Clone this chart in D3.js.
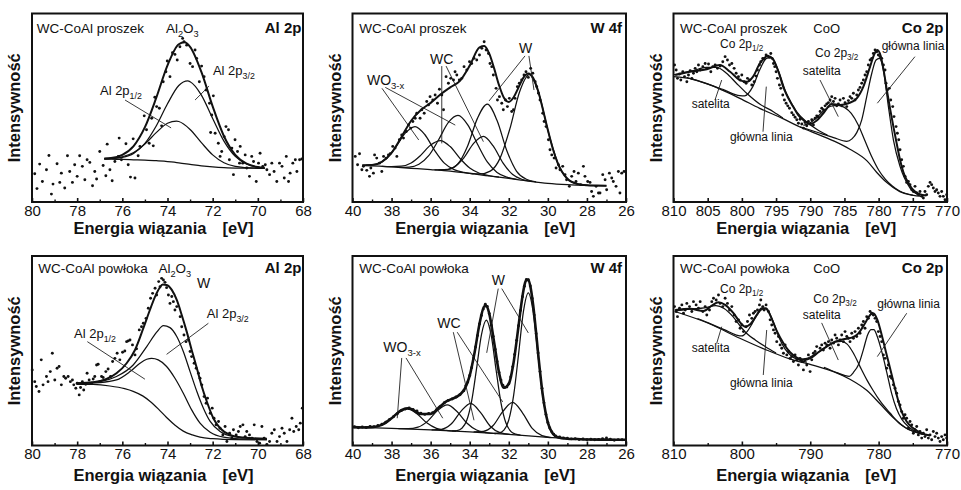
<!DOCTYPE html>
<html><head><meta charset="utf-8">
<script src="https://cdn.jsdelivr.net/npm/d3@7"></script>
<style>
body{margin:0;background:#fff}
text{font-family:"Liberation Sans",Arial,Helvetica,sans-serif;fill:#111}
</style>
</head><body>
<svg id="c" width="961" height="490"></svg>
<script>
// ---------- tick labels ----------
const alTicks=[80,78,76,74,72,70,68], alMinor=[79,77,75,73,71,69];
const wTicks=[40,38,36,34,32,30,28,26], wMinor=[39,37,35,33,31,29,27];
const co1Ticks=[810,805,800,795,790,785,780,775,770], co1Minor=[];
const co2Ticks=[810,800,790,780,770], co2Minor=[805,795,785,775];

// ---------- Panel 1: Al 2p, proszek ----------
const p1Dots=[[79.88,15.0],[79.78,7.1],[79.66,20.1],[79.54,10.9],[79.36,17.1],[79.25,24.7],[79.14,4.2],[79.07,9.5],[78.89,20.3],[78.77,10.4],[78.70,15.3],[78.55,7.4],[78.43,24.5],[78.33,16.2],[78.21,10.4],[78.11,19.8],[78.00,13.6],[77.89,24.5],[77.77,18.9],[77.66,11.8],[77.56,22.4],[77.44,21.0],[77.32,8.6],[77.22,16.2],[77.14,12.2],[77.00,26.8],[76.85,19.4],[76.73,13.9],[76.67,30.7],[76.55,17.1],[76.45,11.3],[76.33,21.5],[76.18,24.2],[76.14,33.9],[76.04,22.4],[75.84,30.9],[75.74,19.8],[75.64,13.2],[75.52,33.5],[75.44,12.7],[75.30,24.5],[75.22,29.5],[75.03,45.7],[74.93,38.3],[74.81,31.2],[74.70,44.4],[74.63,29.8],[74.56,55.6],[74.48,50.6],[74.36,49.7],[74.26,40.4],[74.19,63.8],[74.07,69.1],[74.01,74.8],[73.89,66.5],[73.78,79.2],[73.67,78.3],[73.57,75.3],[73.45,82.4],[73.33,86.8],[73.27,85.0],[73.15,83.2],[73.00,73.5],[72.89,71.8],[72.78,80.6],[72.71,76.2],[72.59,63.8],[72.49,72.1],[72.38,66.5],[72.29,59.4],[72.14,52.4],[72.04,46.2],[71.97,56.3],[72.09,36.9],[71.89,36.5],[71.75,31.2],[71.67,24.2],[71.60,26.8],[71.49,34.7],[71.41,40.0],[71.30,38.3],[71.26,22.4],[71.15,28.6],[71.08,14.5],[71.01,33.0],[70.90,26.8],[70.81,20.6],[70.78,29.5],[70.67,20.6],[70.56,25.0],[70.49,18.0],[70.37,13.6],[70.27,24.2],[70.19,21.5],[70.07,10.9],[69.97,20.6],[69.90,25.9],[69.78,18.9],[69.67,19.8],[69.60,17.1],[69.48,14.5],[69.38,20.6],[69.28,16.2],[69.16,10.9],[69.04,20.6],[68.93,18.9],[68.83,12.7],[68.74,24.2],[68.64,10.9],[68.57,15.3],[68.45,20.6],[68.34,22.4],[68.27,16.2],[68.15,22.4],[68.05,22.8]];
const p1Bg=[[76.8,22.8],[76.5,22.7],[76,22.6],[75.5,22.4],[75,22.2],[74.5,21.9],[74,21.4],[73.5,20.8],[73,20.0],[72.5,19.2],[72,18.6],[71.5,18.2],[71,18.0],[70.5,18.0],[70,17.9],[69.7,17.9]];
const p1Al32=[[76.8,22.9],[76.5,23.0],[76,23.65],[75.5,25.8],[75,31.1],[74.5,40.3],[74,52.1],[73.5,61.8],[73.1,64.2],[73,63.8],[72.5,56.7],[72,44.3],[71.5,32.3],[71,24.2],[70.5,20.2],[70,18.5],[69.7,18.1]];
const p1Al12=[[76.8,23.0],[76.5,23.1],[76,24.0],[75.5,26.3],[75,30.8],[74.5,36.8],[74,41.8],[73.6,42.9],[73.5,42.7],[73,38.5],[72.5,31.5],[72,25.0],[71.5,20.8],[71,18.85],[70.5,18.2],[70,17.95],[69.7,17.9]];
const p1Env=[[76.8,23.1],[76.5,23.3],[76,25.05],[75.5,29.7],[75,39.7],[74.5,55.2],[74,72.5],[73.5,83.7],[73.25,84.7],[73,82.3],[72.5,69.0],[72,50.7],[71.5,34.9],[71,25.05],[70.5,20.4],[70,18.55],[69.7,18.1]];

// ---------- Panel 2: W 4f, proszek ----------
const p2Dots=[[39.86,24.2],[39.74,19.8],[39.64,25.6],[39.52,17.1],[39.44,18.9],[39.27,16.8],[39.13,13.6],[39.06,18.0],[38.93,15.3],[38.87,25.0],[38.76,23.3],[38.62,20.6],[38.50,16.2],[38.41,24.2],[38.28,23.3],[38.16,25.0],[38.07,25.6],[37.94,29.5],[37.82,28.6],[37.73,24.2],[37.60,33.0],[37.48,35.6],[37.39,33.9],[37.25,37.4],[37.13,40.9],[37.02,39.2],[36.91,42.7],[36.79,44.4],[36.71,47.1],[36.54,44.4],[36.45,48.9],[36.33,47.1],[36.20,53.3],[36.11,51.5],[36.03,55.9],[35.89,54.1],[35.77,56.8],[35.65,52.4],[35.55,59.8],[35.43,56.8],[35.34,48.9],[35.21,66.5],[35.09,63.0],[34.97,65.6],[34.83,64.7],[34.75,69.1],[34.66,67.4],[34.53,64.7],[34.41,65.6],[34.29,71.8],[34.15,70.0],[34.01,74.4],[33.90,73.5],[33.78,76.2],[33.64,75.3],[33.50,78.0],[33.38,81.5],[33.26,85.0],[33.16,80.6],[33.04,78.8],[32.96,73.5],[32.87,71.8],[32.79,67.4],[32.65,60.3],[32.58,54.1],[32.48,55.9],[32.36,52.4],[32.28,48.9],[32.17,54.1],[32.07,50.6],[31.97,55.0],[31.85,48.0],[31.76,48.9],[31.68,55.0],[31.56,61.2],[31.46,63.0],[31.34,64.7],[31.22,67.4],[31.12,69.1],[31.00,66.1],[30.88,70.9],[30.77,68.3],[30.65,63.8],[30.57,61.2],[30.48,57.7],[30.40,54.1],[30.26,47.1],[30.19,42.7],[30.09,40.0],[29.97,33.0],[29.89,27.7],[29.80,25.0],[29.68,23.3],[29.58,18.0],[29.46,19.8],[29.38,17.1],[29.24,18.9],[29.12,14.5],[29.04,11.8],[28.90,8.3],[28.78,13.6],[28.66,16.2],[28.56,10.9],[28.44,15.3],[28.32,9.2],[28.18,18.9],[28.10,13.6],[27.96,10.9],[27.84,10.4],[27.76,5.6],[27.67,3.0],[27.53,8.3],[27.41,4.8],[27.33,4.8],[27.19,14.5],[27.07,11.8],[26.99,6.5],[26.85,15.3],[26.73,12.7],[26.65,10.9],[26.51,8.3],[26.39,16.2],[26.31,4.8],[26.22,15.3],[26.10,16.2]];
const p2Bg=[[39.5,19.4],[38,18.6],[37,17.9],[36,17.2],[35,16.4],[34,15.2],[33,13.8],[32,12.5],[31,11.1],[30,9.9],[29,9.2],[28,8.8],[27,8.6]];
const p2WO1=[[39.3,19.5],[38.8,20.0],[38.3,22.8],[37.8,28.85],[37.3,36.5],[36.8,40.05],[36.3,35.8],[35.8,27.4],[35.3,20.6],[34.8,17.2],[34.3,15.7],[33.8,14.9]];
const p2WC1=[[38.5,18.92],[38,18.73],[37.5,18.98],[37,20.71],[36.5,24.88],[36,30.2],[35.5,32.6],[35,29.4],[34.5,23.13],[34,18.01],[33.5,15.23],[33,13.93],[32.5,13.17]];
const p2WO2=[[37.6,18.42],[37.1,18.56],[36.6,20.05],[36.1,24.56],[35.6,32.88],[35.1,42.08],[34.6,45.92],[34.1,40.92],[33.6,30.64],[33.1,21.23],[32.6,15.71],[32.1,13.22],[31.6,12.04]];
const p2WC2=[[35.8,17.1],[35.3,17.09],[34.8,18.57],[34.3,23.44],[33.8,31.1],[33.3,34.8],[32.8,29.75],[32.3,20.8],[31.8,14.57],[31.3,11.94],[30.8,10.9]];
const p2W1=[[35.6,16.98],[35.1,17.3],[34.6,20.3],[34.1,29.9],[33.6,44.5],[33.1,51.9],[32.6,43.2],[32.1,27.2],[31.6,16.3],[31.1,12.06],[30.6,10.72]];
const p2W2=[[33.95,15.2],[33.45,14.9],[32.95,16.36],[32.45,23.15],[31.95,38.63],[31.45,58.33],[30.95,67.54],[30.45,57.04],[29.95,36.07],[29.45,19.59],[28.95,11.8],[28.45,9.44],[27.95,8.85]];
const p2Env=[[39.5,19.5],[39,19.6],[38.5,21.3],[38,26.1],[37.5,34.4],[37,43.1],[36.5,48.8],[36,52.6],[35.5,57.05],[35,60.8],[34.5,64.3],[34,72.35],[33.5,82.0],[33.25,82.7],[33,78.7],[32.75,70.9],[32.5,62.0],[32.25,55.3],[32,53.1],[31.75,55.6],[31.5,60.8],[31.25,66.0],[31,68.2],[30.75,65.8],[30.5,59.0],[30.25,49.0],[30,38.2],[29.75,28.4],[29.5,20.8],[29,12.3],[28.5,9.6],[28,8.9],[27.5,8.7],[27,8.6]];

// ---------- Panel 3: Co 2p, proszek ----------
const p3Dots=[[809.85,72.7],[809.61,70.0],[809.42,65.6],[809.12,67.9],[808.93,64.7],[808.64,69.1],[808.39,66.5],[808.05,63.8],[807.81,67.4],[807.56,69.7],[807.32,65.6],[807.08,68.3],[806.83,70.9],[806.59,69.1],[806.35,72.7],[806.10,70.0],[805.71,71.8],[805.37,73.5],[805.13,70.9],[804.88,73.2],[804.54,69.1],[804.25,71.8],[803.91,72.7],[803.57,70.9],[803.18,72.1],[802.79,74.4],[802.45,77.1],[802.11,75.3],[801.81,72.7],[801.47,73.5],[801.13,70.9],[800.84,68.3],[800.50,66.5],[800.26,64.7],[800.01,67.4],[799.67,63.8],[799.38,63.0],[799.18,65.6],[798.89,64.7],[798.55,62.1],[798.21,63.8],[797.92,66.8],[797.72,70.0],[797.43,72.7],[797.23,74.4],[796.94,76.2],[796.75,75.7],[796.46,78.0],[796.21,77.4],[795.97,76.7],[795.77,78.8],[795.58,76.2],[795.38,73.5],[795.19,71.8],[794.99,69.1],[794.80,65.6],[794.51,62.1],[794.31,60.3],[794.02,56.8],[793.78,54.1],[793.53,52.4],[793.29,51.0],[793.04,49.7],[792.70,47.4],[792.46,46.2],[792.22,45.0],[791.97,43.6],[791.73,41.8],[791.49,43.9],[791.24,41.4],[791.00,39.2],[790.76,42.2],[790.51,40.4],[790.27,42.7],[790.02,41.4],[789.78,43.6],[789.54,40.9],[789.29,44.4],[789.05,45.7],[788.81,45.0],[788.56,48.0],[788.32,49.7],[788.08,48.9],[787.83,51.0],[787.59,52.0],[787.34,52.7],[787.10,54.1],[786.86,55.9],[786.61,53.3],[786.37,55.0],[786.13,51.0],[785.88,52.0],[785.64,54.1],[785.40,51.0],[785.15,55.0],[784.91,52.7],[784.66,50.6],[784.42,53.8],[784.18,55.9],[783.93,55.0],[783.69,57.7],[783.45,54.1],[783.20,56.8],[782.96,59.4],[782.72,60.8],[782.47,63.0],[782.23,64.7],[781.99,67.4],[781.74,69.1],[781.50,72.7],[781.25,75.3],[781.01,76.2],[780.77,78.8],[780.52,80.6],[780.28,79.7],[780.04,78.0],[779.79,77.1],[779.55,76.2],[779.30,72.7],[779.06,70.0],[778.92,63.0],[778.72,59.4],[778.43,60.3],[778.23,54.1],[777.94,50.6],[777.75,45.3],[777.45,40.0],[777.26,36.5],[777.06,33.0],[776.87,27.7],[776.63,22.4],[776.38,18.9],[776.14,13.6],[775.90,10.4],[775.65,10.9],[775.41,9.2],[775.16,6.5],[774.92,5.6],[774.68,8.3],[774.43,4.8],[774.19,3.9],[773.95,5.6],[773.70,3.0],[773.46,2.1],[773.22,5.6],[772.97,3.9],[772.73,8.3],[772.48,10.4],[772.24,9.2],[772.00,7.4],[771.75,5.6],[771.51,6.5],[771.27,4.8],[771.02,3.0],[770.78,5.6],[770.54,3.0],[770.29,1.2],[770.05,3.9]];
const p3Bg=[[810,66.5],[807.1,65.1],[804.9,62.5],[802.7,59.1],[800.3,55.0],[797.4,49.7],[794,44.2],[791.5,39.8],[788.6,35.5],[786.5,32.3],[784.2,28.0],[781.7,21.8],[780.3,15.8],[778.8,10.3],[776.9,5.5],[775.2,3.6],[773.5,3.0]];
const p3Sat12=[[810,67.4],[807.1,69.7],[805.2,71.4],[803.7,71.4],[802.25,68.3],[800.8,63.0],[799.3,57.7],[797.4,52.0],[795.4,47.9],[794,44.5]];
const p3Main12=[[808.1,66.1],[805.2,62.8],[802.7,59.6],[800.3,56.4],[799.6,56.3],[798.4,61.2],[797.4,70.0],[796.4,76.2],[795.7,76.7],[794.7,70.0],[793.5,57.7],[792,48.0],[790.6,42.7],[789,38.5],[787.5,35.5]];
const p3Sat32=[[791,40.6],[790,42.0],[789,45.0],[788,48.5],[787,50.8],[786,51.3],[785,50.2],[784,47.0],[783,41.0],[782,32.5],[781,24.0],[780,17.0],[779,12.0],[778,8.5],[777,6.0],[776,4.5],[775,3.6]];
const p3Main32=[[791.5,39.9],[789,37.0],[786.6,34.2],[784.66,32.2],[783.9,33.5],[783.2,36.8],[782.47,43.6],[781.74,55.9],[781.0,68.3],[780.38,75.3],[779.89,76.2],[779.3,70.0],[778.57,50.6],[777.84,33.0],[776.87,18.9],[775.4,7.4],[773.95,3.5]];
const p3Env=[[809.76,67.4],[807.56,69.1],[805.13,70.4],[803.23,72.7],[801.72,69.1],[800.3,64.7],[799.28,63.8],[798.36,66.5],[797.38,73.5],[796.16,77.4],[795.43,75.7],[794.65,69.1],[793.97,61.2],[793.19,55.0],[792.51,50.6],[791.78,46.2],[791.05,43.6],[790.07,41.4],[789.05,43.2],[788.08,47.1],[786.86,52.0],[785.64,51.5],[784.42,52.4],[783.2,55.0],[782.23,61.2],[781.25,71.8],[780.62,78.5],[780.18,80.6],[779.7,77.5],[779.2,68.5],[778.8,59.4],[778.3,49.0],[777.84,40.0],[777.3,30.0],[776.87,22.4],[776.4,16.0],[775.9,11.8],[775.2,7.5],[774.68,5.6],[774.0,4.2],[773.0,3.4]];

// ---------- Panel 4: Al 2p, powloka ----------
const p4Dots=[[79.99,39.9],[79.88,33.7],[79.81,31.1],[79.69,28.5],[79.59,45.2],[79.51,32.0],[79.36,36.4],[79.29,33.7],[79.19,39.0],[79.10,48.7],[78.99,34.6],[78.89,40.8],[78.80,41.7],[78.70,32.0],[78.59,36.4],[78.51,35.5],[78.40,36.4],[78.30,33.7],[78.21,34.6],[78.15,32.0],[78.06,30.2],[78.00,32.9],[77.91,26.7],[77.85,30.6],[77.77,33.7],[77.71,29.3],[77.62,32.3],[77.56,38.1],[77.47,34.6],[77.37,32.9],[77.29,35.1],[77.22,36.4],[77.14,42.5],[77.07,42.9],[77.00,33.7],[76.92,36.4],[76.85,35.9],[76.73,39.0],[76.63,40.4],[76.52,36.4],[76.43,44.3],[76.33,46.0],[76.23,48.7],[76.11,45.2],[75.99,49.2],[75.89,49.9],[75.81,54.8],[75.74,55.2],[75.66,55.7],[75.55,53.1],[75.44,47.8],[75.37,51.0],[75.25,61.0],[75.15,62.7],[75.07,64.5],[74.95,67.1],[74.85,72.4],[74.75,77.7],[74.66,80.3],[74.55,83.0],[74.48,79.4],[74.39,86.5],[74.33,83.8],[74.26,88.2],[74.18,87.3],[74.11,86.1],[74.04,83.3],[73.96,79.4],[73.89,75.0],[73.81,78.6],[73.74,75.9],[73.67,71.5],[73.59,73.3],[73.44,68.0],[73.37,62.7],[73.27,58.3],[73.18,54.8],[73.07,55.7],[73.00,49.6],[72.93,46.9],[72.82,43.4],[72.73,40.8],[72.63,38.1],[72.56,35.5],[72.48,32.0],[72.38,25.8],[72.29,22.3],[72.23,25.0],[72.11,17.0],[72.02,19.7],[71.94,14.4],[71.85,10.9],[71.74,12.7],[71.67,9.1],[71.55,5.6],[71.45,10.0],[71.37,2.1],[71.25,6.5],[71.15,3.9],[71.08,8.3],[70.96,5.6],[70.86,7.4],[70.78,10.0],[70.66,10.9],[70.56,4.7],[70.49,7.4],[70.37,5.6],[70.26,3.9],[70.16,10.9],[70.04,2.1],[69.92,1.2],[69.82,10.0],[69.72,3.9],[69.60,0.6],[69.48,2.1],[69.38,6.5],[69.27,8.3],[69.15,2.1],[69.04,4.7],[68.93,9.1],[68.83,6.5],[68.71,2.1],[68.59,8.3],[68.49,14.4],[68.41,7.4],[68.30,10.0],[68.19,8.3],[68.12,11.8],[68.03,19.7]];
const p4Bg=[[78.03,32.3],[77.29,32.2],[76.55,31.4],[75.9,30.0],[75.52,28.6],[75.1,26.2],[74.78,23.4],[74.4,19.2],[74.04,14.8],[73.65,10.6],[73.3,7.6],[72.9,5.6],[72.56,4.4],[72,3.6],[71,3.1],[69.6,3.0]];
const p4Al32=[[78.03,32.9],[77.0,33.7],[76.26,36.4],[75.52,42.5],[74.92,52.2],[74.48,59.8],[74.18,63.3],[73.89,62.2],[73.59,57.5],[73.3,49.6],[73.0,39.0],[72.7,28.5],[72.41,19.7],[72.11,12.7],[71.67,7.4],[71.08,4.7],[70.34,3.9],[69.6,3.3]];
const p4Al12=[[78.03,32.7],[77.0,33.2],[76.26,34.6],[75.66,39.0],[75.22,43.4],[74.92,45.5],[74.7,46.0],[74.41,45.2],[74.04,41.7],[73.67,35.5],[73.3,27.6],[72.93,18.8],[72.56,11.8],[72.11,7.0],[71.52,4.4],[70.78,3.5],[69.6,3.2]];
const p4Env=[[78.03,32.9],[77.29,33.4],[76.7,35.1],[76.26,38.1],[75.81,43.4],[75.44,50.4],[75.07,61.9],[74.78,71.5],[74.55,78.6],[74.36,83.0],[74.21,84.9],[74.04,84.7],[73.81,82.1],[73.59,76.8],[73.37,68.9],[73.15,60.1],[72.93,50.4],[72.7,40.8],[72.48,31.1],[72.26,23.2],[71.97,14.4],[71.67,9.1],[71.23,5.6],[70.63,4.2],[69.6,3.5]];

// ---------- Panel 5: W 4f, powloka ----------
const p5Dots=[[39.9,9.9],[39.7,9.4],[39.5,9.8],[39.3,9.5],[39.1,10.0],[38.9,9.9],[38.7,10.6],[38.5,11.2],[38.3,12.3],[38.1,13.8],[37.9,15.2],[37.7,16.8],[37.5,18.4],[37.3,19.2],[37.1,19.8],[36.9,19.0],[36.7,18.2],[36.5,17.0],[36.3,16.4],[36.1,16.9],[35.9,17.3],[35.7,18.9],[35.5,20.4],[35.3,22.6],[35.1,23.8],[34.9,24.5],[34.7,25.6],[34.5,26.8],[34.3,28.9],[34.2,31.5],[34.1,33.5],[34.0,36.9],[33.9,41.0],[33.8,46.2],[33.7,52.0],[33.6,58.0],[33.5,64.1],[33.4,68.6],[33.3,72.0],[33.2,74.5],[33.1,73.4],[33.0,69.6],[32.9,63.5],[32.8,57.6],[32.7,50.8],[32.6,44.3],[32.5,38.5],[32.4,34.5],[32.3,31.8],[32.2,30.6],[32.1,30.9],[32.0,32.5],[31.9,36.2],[31.8,41.5],[31.7,48.0],[31.6,55.5],[31.5,63.2],[31.4,71.3],[31.3,78.5],[31.2,84.0],[31.1,87.6],[31.0,87.5],[30.9,84.2],[30.8,77.6],[30.7,68.8],[30.6,59.0],[30.5,48.8],[30.4,39.0],[30.3,30.2],[30.2,22.5],[30.1,16.4],[30.0,12.1],[29.9,9.3],[29.8,7.2],[29.7,6.0],[29.6,5.0],[29.4,4.5],[29.2,4.0],[29.0,3.8],[28.8,3.5],[28.6,3.6],[28.4,3.2],[28.2,3.4],[28.0,3.1],[27.8,3.3],[27.6,3.0],[27.4,3.2],[27.2,3.6],[27.0,4.0],[26.8,3.3],[26.6,2.8],[26.4,3.1],[26.2,3.0]];
const p5Bg=[[40,9.7],[38,9.0],[36,8.2],[34,7.2],[32,5.9],[30,4.3],[29,3.6],[28,3.2],[26,3.0]];
const p5WO1=[[39.7,9.61],[39.2,9.56],[38.7,10.2],[38.2,12.73],[37.7,17.14],[37.2,19.52],[36.7,16.72],[36.2,11.94],[35.7,9.0],[35.2,7.94],[34.7,7.56]];
const p5WO2=[[37.65,8.9],[37.15,8.84],[36.65,9.65],[36.15,12.87],[35.65,18.41],[35.15,21.38],[34.65,17.91],[34.15,11.89],[33.65,8.18],[33.15,6.83],[32.65,6.32]];
const p5WC1=[[35.95,8.23],[35.45,8.56],[34.95,11.35],[34.45,18.02],[33.95,22.27],[33.45,17.46],[32.95,10.18],[32.45,6.8],[31.95,5.91]];
const p5WC2=[[33.8,7.14],[33.3,7.47],[32.8,10.54],[32.3,18.02],[31.8,22.74],[31.3,17.27],[30.8,9.07],[30.3,5.25],[29.8,4.22]];
const p5W1=[[34.9,7.7],[34.65,7.88],[34.4,9.07],[34.15,13.29],[33.9,23.55],[33.65,40.55],[33.4,58.42],[33.15,66.15],[32.9,58.07],[32.65,39.86],[32.4,22.55],[32.15,11.97],[31.9,7.49],[31.65,5.97],[31.4,5.47]];
const p5W2=[[32.75,6.44],[32.5,6.64],[32.25,8.14],[32.0,13.53],[31.75,26.54],[31.5,48.08],[31.25,70.76],[31.0,80.6],[30.75,70.36],[30.5,47.28],[30.25,25.34],[30.0,11.93],[29.75,6.24],[29.5,4.39],[29.25,3.85]];
const p5Env=[[40,9.7],[39.5,9.5],[39,9.7],[38.5,10.9],[38,14.4],[37.5,18.6],[37.2,19.6],[37,19.3],[36.5,16.6],[36,16.7],[35.5,20.8],[35.15,23.5],[35,24.2],[34.5,26.9],[34.25,30.0],[34,36.9],[33.75,49.1],[33.5,64.1],[33.25,73.5],[33.15,73.7],[33,69.6],[32.75,54.4],[32.5,38.5],[32.25,30.5],[32,32.5],[31.75,44.1],[31.5,63.2],[31.375,73.3],[31.25,81.8],[31.125,86.9],[31,87.5],[30.875,82.9],[30.75,73.9],[30.625,61.9],[30.5,48.8],[30.25,25.9],[30,12.1],[29.75,6.3],[29.5,4.4],[29,3.6],[28.5,3.4],[28,3.2],[27,3.1],[26,3.0]];

// ---------- Panel 6: Co 2p, powloka ----------
const p6Dots=[[809.85,73.3],[809.61,70.7],[809.42,68.0],[809.12,72.4],[808.78,74.2],[808.54,69.8],[808.29,71.5],[808.05,75.0],[807.66,73.3],[807.32,70.7],[807.08,75.9],[806.69,74.2],[806.35,72.4],[806.10,75.9],[805.71,70.7],[805.37,73.3],[805.13,68.9],[804.74,71.5],[804.40,75.9],[804.15,77.7],[803.76,76.8],[803.42,79.4],[803.18,75.0],[802.79,73.3],[802.45,77.7],[802.11,75.0],[801.81,71.5],[801.47,73.3],[801.13,68.9],[800.84,65.4],[800.50,66.3],[800.26,61.9],[800.01,63.6],[799.77,60.1],[799.38,62.7],[799.18,65.4],[798.89,68.9],[798.55,67.1],[798.31,69.8],[798.06,70.7],[797.72,71.5],[797.43,74.2],[797.23,76.8],[796.94,73.3],[796.75,71.5],[796.46,74.2],[796.12,70.7],[795.87,66.3],[795.63,63.6],[795.38,61.0],[795.14,59.2],[794.90,54.8],[794.65,57.5],[794.41,53.1],[794.17,51.3],[793.92,48.7],[793.68,53.1],[793.43,47.8],[793.19,49.6],[792.95,46.0],[792.70,46.9],[792.46,44.3],[792.22,47.8],[791.97,45.2],[791.73,42.5],[791.49,46.0],[791.24,44.3],[791.00,39.9],[790.76,45.2],[790.51,42.5],[790.27,47.8],[790.02,39.0],[789.78,45.2],[789.54,48.7],[789.29,49.6],[789.05,52.2],[788.56,51.3],[788.32,53.1],[788.08,50.4],[787.83,54.0],[787.59,53.1],[787.34,54.8],[787.10,51.3],[786.86,55.7],[786.61,54.0],[786.37,58.3],[786.13,56.6],[785.88,53.1],[785.64,55.7],[785.40,58.3],[785.15,54.8],[784.91,60.1],[784.66,57.5],[784.42,56.6],[784.18,54.8],[783.93,59.2],[783.69,56.6],[783.45,60.1],[783.20,57.5],[782.96,61.9],[782.72,59.2],[782.47,63.6],[782.23,65.4],[781.99,61.9],[781.74,68.0],[781.50,67.1],[781.25,70.7],[781.01,69.8],[780.77,68.9],[780.52,67.1],[780.28,65.4],[780.04,60.1],[779.79,57.5],[779.55,54.8],[779.31,47.8],[779.06,46.0],[778.82,40.8],[778.58,42.5],[778.33,36.4],[778.09,35.5],[777.84,32.0],[777.60,30.2],[777.36,27.6],[777.11,23.2],[776.87,21.4],[776.63,17.9],[776.38,14.4],[776.14,16.2],[775.90,14.4],[775.65,9.1],[775.41,12.7],[775.16,10.9],[774.92,6.5],[774.68,8.3],[774.43,10.0],[774.19,5.6],[773.95,7.4],[773.70,3.9],[773.46,6.5],[773.22,4.7],[772.97,8.3],[772.73,3.9],[772.48,5.6],[772.24,3.0],[772.00,7.4],[771.75,4.7],[771.51,6.5],[771.27,3.9],[771.02,2.1],[770.78,4.7],[770.54,3.0],[770.29,5.6],[770.05,3.9]];
const p6Bg=[[809.8,70.7],[804.9,64.5],[800.3,56.6],[796.4,50.4],[793,45.7],[789.5,42.3],[786.6,39.0],[784.2,35.0],[781.7,29.0],[779.8,22.0],[777.8,14.5],[775.9,9.0],[774,6.4],[772.5,5.2]];
const p6Sat12=[[809.8,71.0],[807.5,72.0],[805.5,72.6],[803.8,73.8],[802.6,72.3],[801.3,68.0],[800.2,62.8],[799.2,58.8],[798,55.6],[796.5,52.0],[795,48.8]];
const p6Main12=[[806.5,67.0],[804.9,64.7],[802.5,61.0],[800.8,58.3],[800.0,57.8],[799.3,59.8],[798.5,64.3],[797.8,68.8],[797.1,71.7],[796.6,72.1],[796.0,70.0],[795.3,64.3],[794.5,56.5],[793.7,51.0],[792.8,47.4],[791.8,45.3],[790.5,44.0]];
const p6Sat32=[[792,45.4],[790.5,46.0],[789,48.8],[787.6,52.4],[786.4,54.6],[785.4,55.0],[784.6,53.5],[783.7,48.8],[782.7,41.5],[781.7,34.5],[780.8,29.0],[779.8,23.5],[778.3,17.0],[776.9,11.5],[775,7.6],[773.5,5.8]];
const p6Main32=[[788,41.3],[786,38.3],[785,37.0],[784.3,36.5],[783.7,38.5],[782.9,43.0],[782.2,51.0],[781.6,58.5],[781.1,61.2],[780.7,61.2],[780.2,57.5],[779.5,49.0],[778.8,38.5],[778.1,27.5],[777.4,19.5],[776.6,13.8],[775.6,9.8],[774.4,7.0],[773,5.5]];
const p6Env=[[809.76,71.5],[807.56,72.1],[805.61,71.0],[804.4,73.8],[803.42,75.6],[802.45,74.2],[801.23,69.8],[800.26,65.0],[799.52,62.7],[798.79,64.0],[797.82,68.9],[797.09,72.4],[796.46,72.4],[795.77,68.0],[794.9,60.5],[793.92,54.0],[792.95,49.2],[791.97,46.4],[791.0,45.2],[790.02,46.0],[788.81,49.2],[787.59,52.2],[786.37,54.8],[785.15,56.1],[783.93,56.9],[782.96,59.2],[781.99,64.5],[781.25,68.9],[780.77,69.8],[780.18,66.3],[779.55,58.3],[778.82,47.8],[778.09,37.3],[777.36,26.7],[776.63,17.9],[775.9,12.7],[774.92,9.1],[773.7,6.5],[772.48,5.3]];

// ---------- layout ----------
const cols=[[32,303],[352.5,626],[673.5,947]];
const rows=[[202,13.5],[445.5,256]];
const titleY=[234,481];
const svg=d3.select("#c");

const panels=[
 {col:0,row:0,dom:[80,68],ticks:alTicks,minor:alMinor,dots:p1Dots,lines:[p1Bg,p1Al32,p1Al12],env:p1Env,envW:2,
  texts:[{E:79.79,v:89.4,parts:[["WC-CoAl proszek"]],size:13.5},
         {E:74.07,v:89.4,parts:[["Al"],["2","s"],["O"],["3","s"]],size:13.5},
         {E:68.07,v:89.4,parts:[["Al 2p"]],size:15,bold:1,anchor:"end"},
         {E:71.99,v:67.4,parts:[["Al 2p"],["3/2","s"]],size:13},
         {E:76.99,v:56.8,parts:[["Al 2p"],["1/2","s"]],size:13}],
  leaders:[[72.16,61.5,72.78,54.1],[75.88,54.1,73.84,39.3]]},
 {col:1,row:0,dom:[40,26],ticks:wTicks,minor:wMinor,dots:p2Dots,lines:[p2Bg,p2WO1,p2WC1,p2WO2,p2WC2,p2W1,p2W2],env:p2Env,envW:2,
  texts:[{E:39.65,v:89.4,parts:[["WC-CoAl proszek"]],size:13.5},
         {E:26.2,v:89.4,parts:[["W 4f"]],size:15,bold:1,anchor:"end"},
         {E:36.03,v:73.2,parts:[["WC"]],size:14},
         {E:31.48,v:79.0,parts:[["W"]],size:14},
         {E:39.26,v:62.1,parts:[["WO"],["3-x","s"]],size:14}],
  leaders:[[38.49,60.3,36.61,32.9],[38.32,60.8,34.74,40.8],[35.43,72.1,35.43,31.1],[35.21,72.1,33.3,32.0],[31.17,77.5,33.01,53.6],[30.97,77.5,30.71,59.4]]},
 {col:2,row:0,dom:[810,770],ticks:co1Ticks,minor:co1Minor,dots:p3Dots,lines:[p3Bg,p3Sat12,p3Main12,p3Sat32,p3Main32],env:p3Env,envW:2,
  texts:[{E:809.05,v:89.4,parts:[["WC-CoAl proszek"]],size:13.5},
         {E:789.55,v:89.4,parts:[["CoO"]],size:13},
         {E:770.51,v:89.4,parts:[["Co 2p"]],size:15,bold:1,anchor:"end"},
         {E:803.2,v:81.7,parts:[["Co 2p"],["1/2","s"]],size:12},
         {E:789.3,v:76.9,parts:[["Co 2p"],["3/2","s"]],size:12},
         {E:779.55,v:80.6,parts:[["główna linia"]],size:12},
         {E:791.1,v:67.4,parts:[["satelita"]],size:12},
         {E:807.34,v:49.9,parts:[["satelita"]],size:12},
         {E:801.74,v:32.4,parts:[["główna linia"]],size:12}],
  leaders:[[803.93,54.1,802.95,64.7],[796.91,37.3,796.43,61.2],[788.57,64.7,785.9,45.3],[774.69,77.1,780.19,52.4]]},
 {col:0,row:1,dom:[80,68],ticks:alTicks,minor:alMinor,dots:p4Dots,lines:[p4Bg,p4Al32,p4Al12],env:p4Env,envW:2,
  texts:[{E:79.72,v:90.8,parts:[["WC-CoAl powłoka"]],size:13.5},
         {E:74.4,v:90.8,parts:[["Al"],["2","s"],["O"],["3","s"]],size:13.5},
         {E:72.69,v:83.0,parts:[["W"]],size:14},
         {E:68.07,v:90.8,parts:[["Al 2p"]],size:15,bold:1,anchor:"end"},
         {E:72.26,v:67.3,parts:[["Al 2p"],["3/2","s"]],size:13},
         {E:78.14,v:56.7,parts:[["Al 2p"],["1/2","s"]],size:13}],
  leaders:[[72.19,64.5,74.04,48.1],[77.55,54.8,75.0,35.0]]},
 {col:1,row:1,dom:[40,26],ticks:wTicks,minor:wMinor,dots:p5Dots,lines:[p5Bg,p5WO1,p5WO2,p5WC1,p5WC2,p5W1,p5W2],env:p5Env,envW:2.6,
  texts:[{E:39.65,v:90.8,parts:[["WC-CoAl powłoka"]],size:13.5},
         {E:26.2,v:90.8,parts:[["W 4f"]],size:15,bold:1,anchor:"end"},
         {E:32.87,v:84.7,parts:[["W"]],size:14},
         {E:35.66,v:62.2,parts:[["WC"]],size:14},
         {E:38.42,v:49.3,parts:[["WO"],["3-x","s"]],size:14}],
  leaders:[[32.54,82.8,33.13,48.9],[32.36,82.8,31.0,59.4],[34.84,59.8,33.78,13.3],[34.64,59.8,32.31,23.0],[37.48,46.2,37.71,14.4],[37.26,46.2,35.38,14.4]]},
 {col:2,row:1,dom:[810,770],ticks:co2Ticks,minor:co2Minor,dots:p6Dots,lines:[p6Bg,p6Sat12,p6Main12,p6Sat32,p6Main32],env:p6Env,envW:2,
  texts:[{E:809.05,v:90.8,parts:[["WC-CoAl powłoka"]],size:13.5},
         {E:789.55,v:90.8,parts:[["CoO"]],size:13},
         {E:770.51,v:90.8,parts:[["Co 2p"]],size:15,bold:1,anchor:"end"},
         {E:803.2,v:80.5,parts:[["Co 2p"],["1/2","s"]],size:12},
         {E:789.55,v:75.2,parts:[["Co 2p"],["3/2","s"]],size:12},
         {E:780.2,v:72.6,parts:[["główna linia"]],size:12},
         {E:791.1,v:66.6,parts:[["satelita"]],size:12},
         {E:807.34,v:49.3,parts:[["satelita"]],size:12},
         {E:801.74,v:31.0,parts:[["główna linia"]],size:12}],
  leaders:[[803.68,53.9,802.95,62.7],[796.87,37.2,796.37,60.95],[788.33,64.7,785.9,45.1],[775.89,69.8,780.19,46.9]]}
];

panels.forEach((p,i)=>{
  const [xl,xr]=cols[p.col],[yb,yt]=rows[p.row];
  const x=d3.scaleLinear().domain(p.dom).range([xl,xr]);
  const y=d3.scaleLinear().domain([0,100]).range([yb,yt]);
  const cid="clip"+i;
  svg.append("clipPath").attr("id",cid).append("rect")
     .attr("x",xl).attr("y",yt).attr("width",xr-xl).attr("height",yb-yt);
  const g=svg.append("g");
  const line=d3.line().x(d=>x(d[0])).y(d=>y(d[1])).curve(d3.curveMonotoneX);
  const lg=g.append("g").attr("clip-path",`url(#${cid})`);
  p.lines.forEach(L=>lg.append("path").attr("d",line(L)).attr("fill","none").attr("stroke","#111").attr("stroke-width",1.25));
  lg.append("path").attr("d",line(p.env)).attr("fill","none").attr("stroke","#111").attr("stroke-width",p.envW);
  p.leaders.forEach(l=>g.append("line").attr("x1",x(l[0])).attr("y1",y(l[1])).attr("x2",x(l[2])).attr("y2",y(l[3]))
     .attr("stroke","#222").attr("stroke-width",0.9));
  g.append("g").selectAll("circle").data(p.dots).join("circle")
     .attr("cx",d=>x(d[0])).attr("cy",d=>y(d[1])).attr("r",1.45).attr("fill","#111");
  p.texts.forEach(t=>{
    const tx=g.append("text").attr("x",x(t.E)).attr("y",y(t.v)).attr("font-size",t.size)
      .attr("font-weight",t.bold?"bold":"normal").attr("text-anchor",t.anchor||"start");
    let sub=false;
    t.parts.forEach(pt=>{
      const s=tx.append("tspan").text(pt[0]);
      if(pt[1]==="s"){ s.attr("font-size",t.size*0.68).attr("dy",sub?0:t.size*0.28); sub=true; }
      else { if(sub){ s.attr("dy",-t.size*0.28); } sub=false; }
    });
  });
  const ax=d3.axisBottom(x).tickValues(p.ticks).tickSizeInner(-4).tickSizeOuter(0).tickPadding(3).tickFormat(d3.format("d"));
  const ag=g.append("g").attr("transform",`translate(0,${yb})`).call(ax);
  ag.select(".domain").remove();
  ag.selectAll("line").attr("stroke","#111").attr("stroke-width",1.6);
  ag.selectAll("text").attr("font-size",15).attr("fill","#111").style("font-family",'"Liberation Sans",Arial,sans-serif');
  if(p.minor.length){
    const am=d3.axisBottom(x).tickValues(p.minor).tickSizeInner(-2.5).tickSizeOuter(0).tickFormat("");
    const mg=g.append("g").attr("transform",`translate(0,${yb})`).call(am);
    mg.select(".domain").remove();
    mg.selectAll("line").attr("stroke","#111").attr("stroke-width",1.4);
  }
  g.append("rect").attr("x",xl).attr("y",yt).attr("width",xr-xl).attr("height",yb-yt)
   .attr("fill","none").attr("stroke","#111").attr("stroke-width",2);
  const xt=g.append("text").attr("x",(xl+xr)/2-4).attr("y",titleY[p.row]).attr("text-anchor","middle")
    .attr("font-size",16.5).attr("font-weight","bold");
  xt.append("tspan").text("Energia wiązania");
  xt.append("tspan").attr("dx",16).text("[eV]");
  g.append("text").attr("transform",`translate(${xl-12},${(yb+yt)/2}) rotate(-90)`)
    .attr("text-anchor","middle").attr("font-size",16.5).attr("font-weight","bold").text("Intensywność");
});
</script>
</body></html>
